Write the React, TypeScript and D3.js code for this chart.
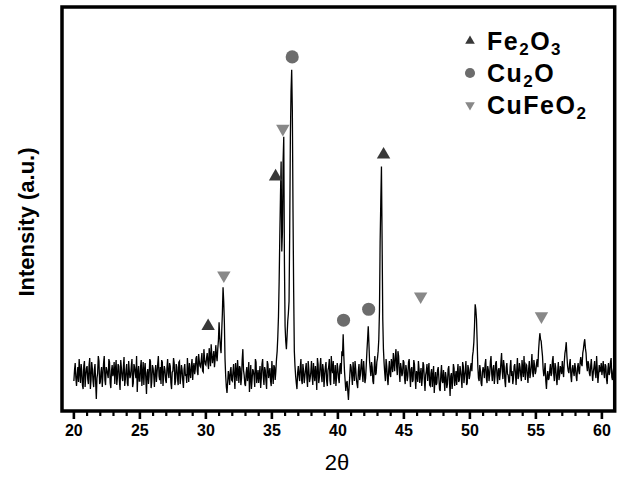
import React from "react";
import * as d3 from "d3";

// 2θ sampling of the pattern
const thetaStart = 20;
const thetaStep = 0.1;
// intensity (a.u.) at 20.00, 20.10, ... 61.00
const intensityEven: number[] = [
  30, 48, 25, 44, 52, 28, 40, 22, 50, 35,
  45, 27, 53, 31, 42, 24, 47, 12, 38, 50,
  29, 44, 36, 55, 26, 41, 33, 49, 23, 46,
  38, 27, 51, 34, 45, 21, 43, 30, 54, 32,
  47, 25, 40, 36, 52, 28, 44, 33, 19, 45,
  30, 51, 37, 26, 48, 17, 42, 35, 50, 29,
  43, 24, 46, 38, 55, 31, 27, 49, 36, 41,
  28, 52, 33, 45, 22, 40, 48, 30, 44, 26,
  50, 34, 41, 23, 47, 37, 53, 29, 39, 45,
  31, 48, 42, 55, 36, 50, 44, 58, 39, 52,
  46, 58, 42, 55, 67, 48, 60, 52, 56, 62,
  89, 64, 80, 124, 89, 35, 18, 40, 26, 44,
  30, 47, 22, 39, 51, 28, 43, 33, 62, 36,
  25, 44, 37, 19, 46, 31, 40, 24, 49, 35,
  28, 45, 33, 52, 26, 41, 22, 47, 38, 30,
  50, 27, 44, 40, 60, 95, 175, 250, 180, 275,
  85, 62, 90, 110, 274, 342, 200, 60, 35, 22,
  45, 30, 52, 27, 40, 35, 48, 24, 42, 33,
  50, 26, 38, 45, 21, 47, 34, 53, 29, 41,
  36, 49, 25, 44, 31, 55, 38, 27, 46, 34,
  42, 28, 48, 60, 77, 40, 20, 30, 11, 35,
  44, 26, 39, 50, 32, 23, 47, 36, 52, 29,
  40, 33, 60, 85, 50, 35, 44, 27, 55, 38,
  53, 72, 169, 245, 92, 48, 30, 45, 26, 50,
  34, 47, 58, 40, 62, 36, 55, 29, 43, 38,
  49, 27, 41, 35, 52, 24, 44, 31, 47, 22,
  38, 50, 28, 43, 33, 46, 20, 40, 30, 48,
  25, 42, 35, 18, 39, 28, 44, 22, 37, 30,
  41, 20, 34, 27, 45, 15, 38, 29, 43, 33,
  26, 47, 31, 40, 23, 45, 35, 50, 28, 42,
  36, 48, 55, 69, 107, 92, 45, 30, 40, 25,
  44, 33, 52, 28, 41, 37, 55, 30, 46, 35,
  50, 27, 43, 38, 58, 32, 45, 24, 48, 36,
  29, 51, 40, 33, 47, 26, 53, 35, 44, 30,
  42, 55, 31, 46, 28, 50, 38, 57, 34, 45,
  40, 52, 60, 78, 70, 55, 35, 48, 22, 40,
  33, 47, 38, 55, 30, 44, 26, 49, 36, 42,
  50, 34, 58, 69, 45, 38, 52, 29, 46, 35,
  43, 30, 48, 37, 54, 45, 62, 72, 58, 40,
  47, 35, 52, 30, 44, 38, 55, 28, 46, 41,
  36, 50, 33, 45, 27, 48, 39, 53, 31, 44,
  38,
];
// intensity (a.u.) at 20.05, 20.15, ... 60.95
const intensityOdd: number[] = [
  41, 33, 36, 29, 39, 47, 26, 45, 24, 43,
  32, 46, 22, 49, 30, 41, 28, 33, 55, 27,
  39, 24, 48, 31, 44, 37, 52, 28, 40, 35,
  49, 42, 26, 47, 30, 51, 34, 44, 25, 41,
  28, 50, 33, 45, 24, 47, 38, 55, 37, 30,
  44, 25, 49, 41, 32, 38, 27, 52, 23, 46,
  36, 40, 29, 47, 35, 44, 51, 25, 45, 31,
  43, 38, 48, 28, 39, 53, 26, 47, 33, 49,
  27, 46, 30, 42, 35, 28, 40, 48, 33, 52,
  43, 37, 53, 40, 57, 45, 51, 40, 62, 47,
  53, 49, 63, 45, 56, 54, 44, 66, 50, 71,
  74, 58, 98, 110, 52, 24, 29, 35, 40, 31,
  39, 34, 48, 30, 40, 45, 26, 51, 41, 27,
  38, 30, 49, 33, 22, 42, 35, 52, 28, 41,
  36, 23, 47, 34, 44, 30, 50, 33, 43, 25,
  38, 46, 31, 52, 75, 130, 215, 160, 250, 150,
  70, 75, 98, 180, 320, 300, 120, 45, 28, 38,
  36, 44, 31, 47, 28, 42, 33, 50, 29, 39,
  35, 48, 30, 37, 53, 28, 45, 36, 47, 24,
  44, 30, 41, 52, 26, 43, 50, 35, 25, 48,
  33, 45, 37, 55, 55, 30, 28, 20, 24, 47,
  35, 49, 30, 42, 27, 40, 31, 45, 38, 50,
  28, 46, 72, 68, 42, 49, 30, 43, 36, 49,
  60, 100, 210, 170, 62, 38, 52, 33, 41, 37,
  52, 39, 48, 55, 45, 60, 40, 48, 35, 51,
  33, 46, 30, 49, 36, 42, 29, 51, 34, 40,
  29, 42, 37, 25, 49, 31, 36, 47, 41, 26,
  38, 24, 45, 30, 26, 41, 33, 20, 46, 28,
  31, 39, 23, 42, 30, 35, 22, 47, 25, 40,
  38, 29, 45, 33, 49, 28, 41, 26, 46, 32,
  44, 40, 60, 85, 102, 70, 33, 46, 28, 39,
  40, 47, 33, 45, 30, 49, 38, 42, 27, 48,
  36, 41, 31, 49, 40, 51, 30, 43, 37, 29,
  44, 35, 27, 45, 38, 41, 32, 48, 36, 51,
  34, 40, 47, 36, 42, 33, 46, 39, 51, 37,
  48, 44, 70, 72, 62, 42, 40, 30, 35, 31,
  41, 35, 50, 37, 48, 33, 40, 31, 45, 37,
  40, 49, 62, 55, 40, 47, 35, 42, 39, 48,
  35, 43, 40, 49, 47, 58, 68, 63, 46, 50,
  38, 45, 40, 39, 50, 33, 41, 37, 39, 48,
  42, 38, 47, 32, 41, 36, 49, 34, 40, 46,
];

// phase markers
const fe2o3Theta = [30.17, 35.28, 43.46];
const fe2o3Int = [85, 235, 257];
const cu2oTheta = [36.54, 40.43, 42.33];
const cu2oInt = [355, 91, 102];
const cufeo2Theta = [31.36, 35.83, 46.27, 55.42];
const cufeo2Int = [136, 283, 115, 95];

const xTicks = [20, 25, 30, 35, 40, 45, 50, 55, 60];
const xDomain = [19.1, 60.97];
const yDomain = [0, 405];

const W = 622;
const H = 477;
const left = 62;
const top = 7;
const right = 614.7;
const bottom = 411;

const FONT = "'Liberation Sans', Arial, Helvetica, sans-serif";
const C_FE = "#383838";
const C_CU = "#6c6c6c";
const C_CF = "#888888";

export default function App() {
  const x = d3.scaleLinear().domain(xDomain).range([left, right]);
  const y = d3.scaleLinear().domain(yDomain).range([bottom, top]);

  const pts: [number, number][] = [];
  intensityEven.forEach((v, i) => {
    pts.push([thetaStart + i * thetaStep, v]);
    if (i < intensityOdd.length) pts.push([thetaStart + (i + 0.5) * thetaStep, intensityOdd[i]]);
  });
  const line = d3
    .line<[number, number]>()
    .x((d) => x(d[0]))
    .y((d) => y(d[1]));

  const minorTicks = d3
    .range(19, 62, 1)
    .filter((t) => t >= xDomain[0] && t <= xDomain[1] && t % 5 !== 0);

  const triUp = d3.symbol().type(d3.symbolTriangle).size(78)()!;
  const circ = d3.symbol().type(d3.symbolCircle).size(135)()!;
  const triUpS = d3.symbol().type(d3.symbolTriangle).size(40)()!;
  const circS = d3.symbol().type(d3.symbolCircle).size(80)()!;

  const legend = [
    { sym: triUpS, rot: 0, color: C_FE, y: 41, parts: [["Fe", false], ["2", true], ["O", false], ["3", true]] },
    { sym: circS, rot: 0, color: C_CU, y: 73, parts: [["Cu", false], ["2", true], ["O", false]] },
    { sym: triUpS, rot: 180, color: C_CF, y: 105, parts: [["CuFeO", false], ["2", true]] },
  ];

  return (
    <svg
      width={W}
      height={H}
      style={{ position: "absolute", left: 0, top: 0, background: "#fff" }}
      fontFamily={FONT}
    >
      <defs>
        <clipPath id="plotClip">
          <rect x={left} y={top} width={right - left} height={bottom - top} />
        </clipPath>
      </defs>
      <rect x={0} y={0} width={W} height={H} fill="#fff" />

      <g clipPath="url(#plotClip)">
        <path d={line(pts) || ""} fill="none" stroke="#000" strokeWidth={1.3} />
      </g>

      {fe2o3Theta.map((t, i) => (
        <path key={"fe" + i} d={triUp} fill={C_FE} transform={`translate(${x(t)},${y(fe2o3Int[i])})`} />
      ))}
      {cu2oTheta.map((t, i) => (
        <path key={"cu" + i} d={circ} fill={C_CU} transform={`translate(${x(t)},${y(cu2oInt[i])})`} />
      ))}
      {cufeo2Theta.map((t, i) => (
        <path key={"cf" + i} d={triUp} fill={C_CF} transform={`translate(${x(t)},${y(cufeo2Int[i])}) rotate(180)`} />
      ))}

      {/* frame */}
      <rect x={left} y={top} width={right - left} height={bottom - top} fill="none" stroke="#000" strokeWidth={3.5} />

      {/* x ticks */}
      {xTicks.map((t) => (
        <g key={"t" + t}>
          <line x1={x(t)} x2={x(t)} y1={bottom} y2={bottom + 8} stroke="#000" strokeWidth={2.6} />
          <text x={x(t)} y={436} textAnchor="middle" fontSize={16} fontWeight="bold">
            {t}
          </text>
        </g>
      ))}
      {minorTicks.map((t) => (
        <line key={"m" + t} x1={x(t)} x2={x(t)} y1={bottom} y2={bottom + 5} stroke="#000" strokeWidth={2.2} />
      ))}

      {/* axis titles */}
      <text x={337} y={470} textAnchor="middle" fontSize={22}>
        2θ
      </text>
      <text
        transform="translate(34,222) rotate(-90)"
        textAnchor="middle"
        fontSize={22}
        fontWeight="bold"
      >
        Intensity (a.u.)
      </text>

      {/* legend */}
      {legend.map((l, i) => (
        <g key={"l" + i}>
          <path d={l.sym} fill={l.color} transform={`translate(470,${l.y}) rotate(${l.rot})`} />
          <text x={487} y={l.y + 9} fontSize={25} fontWeight="bold" letterSpacing={1.5}>
            {l.parts.map((p, j) =>
              p[1] ? (
                <tspan key={j} fontSize={17} dy={5}>
                  {p[0] as string}
                </tspan>
              ) : (
                <tspan key={j} dy={j === 0 ? 0 : -5}>
                  {p[0] as string}
                </tspan>
              )
            )}
          </text>
        </g>
      ))}
    </svg>
  );
}
